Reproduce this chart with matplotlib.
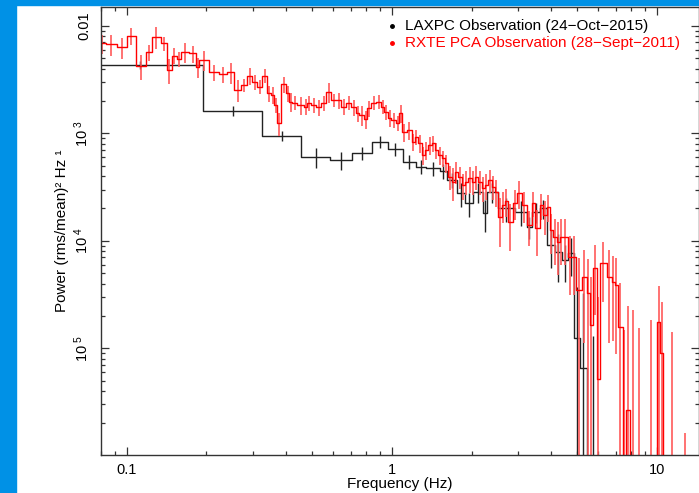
import numpy as np
import matplotlib
matplotlib.use('Agg')
import matplotlib.pyplot as plt
from matplotlib.patches import Rectangle
from matplotlib.ticker import LogLocator, NullFormatter

plt.rcParams['font.family'] = ['Liberation Sans', 'DejaVu Sans']
plt.rcParams['mathtext.fontset'] = 'custom'
plt.rcParams['mathtext.rm'] = 'Liberation Sans'

# LAXPC observation: bin edges (Hz), power, 1-sigma error
laxpc_edges = [0.065, 0.194, 0.324, 0.456, 0.586, 0.710, 0.845, 0.970, 1.098,
               1.234, 1.352, 1.514, 1.610, 1.757, 1.884, 2.02, 2.20, 2.28,
               2.51, 2.91, 3.23, 3.37, 3.62, 3.84, 4.12, 4.38, 4.62, 4.86,
               5.13, 5.45, 6.10]
laxpc_power = [4.35e-3, 1.62e-3, 9.44e-4, 6.02e-4, 5.61e-4, 6.56e-4, 8.35e-4,
               7.15e-4, 5.45e-4, 4.89e-4, 4.72e-4, 4.49e-4, 3.7e-4, 2.76e-4,
               2.23e-4, 2.86e-4, 1.81e-4, 2.86e-4, 2.01e-4, 1.87e-4, 1.35e-4,
               1.87e-4, 2.01e-4, 9.14e-5, 7.87e-5, 6.63e-5, 7.69e-5, 1.25e-5,
               6.56e-6, 0.0]
laxpc_err = [3.5e-4, 1.7e-4, 1.0e-4, 1.3e-4, 1.1e-4, 0.9e-4, 1.1e-4, 1.0e-4,
             0.8e-4, 0.75e-4, 0.7e-4, 0.7e-4, 0.6e-4, 0.7e-4, 0.56e-4, 0.6e-4,
             0.6e-4, 0.6e-4, 0.5e-4, 0.5e-4, 0.3e-4, 0.4e-4, 0.4e-4, 3.5e-5,
             3.7e-5, 2.5e-5, 3.0e-5, 2.5e-5, 2.6e-5, 1.3e-5]

# RXTE PCA observation: bin edges (Hz), power, 1-sigma error
rxte_edges = [0.078, 0.0834, 0.0918, 0.1002, 0.1083, 0.1182, 0.1246, 0.1346, 0.1419, 0.1482,
              0.1548, 0.1603, 0.1718, 0.1826, 0.1875, 0.2046, 0.2232, 0.2392, 0.2542, 0.2702,
              0.2847, 0.2974, 0.3106, 0.3245, 0.3389, 0.3509, 0.3601, 0.3697, 0.3828, 0.3998,
              0.4104, 0.4213, 0.4400, 0.4676, 0.4800, 0.4970, 0.5191, 0.5422, 0.5663, 0.5916,
              0.6179, 0.6454, 0.6741, 0.7041, 0.7355, 0.7549, 0.7885, 0.8091, 0.8381, 0.8755,
              0.9143, 0.9385, 0.9717, 0.9974, 1.0418, 1.0693, 1.0976, 1.1366, 1.1872, 1.2186,
              1.2509, 1.2953, 1.3295, 1.3646, 1.4129, 1.4503, 1.4887, 1.5414, 1.5821, 1.6240,
              1.6815, 1.7261, 1.7717, 1.8345, 1.8832, 1.9329, 2.0013, 2.0544, 2.1086, 2.1833,
              2.2413, 2.3005, 2.3819, 2.4451, 2.5097, 2.5985, 2.6675, 2.7380, 2.8599, 2.9614,
              3.0932, 3.2309, 3.3747, 3.4639, 3.6180, 3.7139, 3.8455, 3.9472, 4.0514, 4.1947,
              4.3053, 4.4192, 4.6159, 4.7795, 4.9487, 5.2142, 5.4462, 5.5905, 5.7391, 5.9420,
              6.0994, 6.4816, 6.7700, 6.9502, 7.1340, 7.4513, 7.6490, 7.9197, 8.3445, 8.7902,
              9.2628, 9.7588, 10.018, 10.283, 10.556, 11.02, 11.72, 12.35, 13.23]
rxte_power = [6.88e-3, 6.73e-3, 6.31e-3, 8.09e-3, 4.23e-3, 5.67e-3, 7.92e-3, 6.88e-3, 3.88e-3, 5.27e-3,
              4.91e-3, 5.74e-3, 5.55e-3, 4.14e-3, 4.81e-3, 3.69e-3, 3.54e-3, 3.69e-3, 2.55e-3, 2.80e-3,
              3.43e-3, 3.02e-3, 2.71e-3, 3.43e-3, 2.36e-3, 2.27e-3, 1.83e-3, 1.24e-3, 2.86e-3, 2.36e-3,
              1.97e-3, 1.93e-3, 1.83e-3, 1.77e-3, 1.90e-3, 1.83e-3, 1.74e-3, 1.90e-3, 2.41e-3, 2.04e-3,
              2.04e-3, 1.77e-3, 1.93e-3, 1.74e-3, 1.53e-3, 1.48e-3, 1.35e-3, 1.71e-3, 1.93e-3, 1.97e-3,
              1.77e-3, 1.59e-3, 1.39e-3, 1.33e-3, 1.25e-3, 1.54e-3, 1.03e-3, 1.07e-3, 8.35e-4, 9.30e-4,
              8.12e-4, 6.28e-4, 7.00e-4, 7.78e-4, 8.07e-4, 7.00e-4, 6.28e-4, 5.85e-4, 5.26e-4, 3.95e-4,
              3.55e-4, 4.39e-4, 3.95e-4, 3.30e-4, 3.55e-4, 3.81e-4, 3.55e-4, 3.95e-4, 3.55e-4, 3.08e-4,
              3.30e-4, 3.68e-4, 3.19e-4, 2.86e-4, 1.68e-4, 2.15e-4, 2.35e-4, 1.50e-4, 2.25e-4, 2.78e-4,
              2.15e-4, 1.40e-4, 2.25e-4, 1.32e-4, 2.15e-4, 1.74e-4, 2.08e-4, 1.26e-4, 1.09e-4, 9.81e-5,
              1.09e-4, 1.09e-4, 7.11e-5, 7.11e-5, 3.49e-5, 4.63e-5, 3.27e-5, 1.65e-5, 5.55e-5, 5.18e-6,
              6.17e-5, 4.63e-5, 4.16e-5, 3.88e-5, 1.59e-5, 0.0, 2.67e-6, 0.0, 0.0, 0.0,
              0.0, 0.0, 1.77e-5, 8.99e-6, 0.0, 0.0, 0.0, 0.0]
rxte_err = [1.4e-3, 1.5e-3, 1.4e-3, 1.5e-3, 1.1e-3, 1.0e-3, 1.8e-3, 1.0e-3, 1.0e-3, 0.9e-3,
            0.8e-3, 1.2e-3, 1.0e-3, 0.9e-3, 1.0e-3, 0.6e-3, 0.6e-3, 0.8e-3, 0.6e-3, 0.4e-3,
            0.6e-3, 0.5e-3, 0.4e-3, 0.5e-3, 0.4e-3, 0.4e-3, 0.3e-3, 0.3e-3, 0.5e-3, 0.4e-3,
            0.4e-3, 0.3e-3, 0.35e-3, 0.3e-3, 0.3e-3, 0.3e-3, 0.3e-3, 0.3e-3, 0.5e-3, 0.3e-3,
            0.35e-3, 0.3e-3, 0.3e-3, 0.3e-3, 0.25e-3, 0.3e-3, 0.25e-3, 0.3e-3, 0.3e-3, 0.3e-3,
            0.25e-3, 0.25e-3, 0.25e-3, 0.2e-3, 0.2e-3, 0.3e-3, 0.2e-3, 0.2e-3, 1.5e-4, 1.5e-4,
            1.5e-4, 1.2e-4, 1.3e-4, 1.5e-4, 1.3e-4, 1.2e-4, 1.2e-4, 1.0e-4, 1.0e-4, 1.0e-4,
            1.2e-4, 1.0e-4, 0.9e-4, 0.9e-4, 0.9e-4, 1.0e-4, 0.9e-4, 1.0e-4, 0.9e-4, 0.8e-4,
            0.9e-4, 0.9e-4, 0.8e-4, 0.8e-4, 0.8e-4, 0.7e-4, 0.7e-4, 0.7e-4, 0.7e-4, 0.8e-4,
            0.7e-4, 0.5e-4, 0.6e-4, 0.6e-4, 0.6e-4, 0.6e-4, 0.6e-4, 0.5e-4, 0.5e-4, 0.5e-4,
            0.5e-4, 0.5e-4, 0.4e-4, 0.4e-4, 3.5e-5, 3.5e-5, 3.5e-5, 3.0e-5, 3.5e-5, 2.5e-5,
            3.5e-5, 3.5e-5, 3.0e-5, 3.0e-5, 2.5e-5, 1.48e-5, 2.2e-5, 2.27e-5, 1.54e-5, 5e-7,
            1.83e-5, 5e-7, 2.0e-5, 1.8e-5, 5e-7, 1.42e-5, 5e-7, 1.63e-6]

x_ticks = [0.1, 1, 10]
x_tick_labels = ['0.1', '1', '10']
y_ticks = [1e-5, 1e-4, 1e-3, 1e-2]
y_tick_labels = [r'$\mathregular{10^{\ 5}}$', r'$\mathregular{10^{\ 4}}$',
                 r'$\mathregular{10^{\ 3}}$', '0.01']
legend_labels = ['LAXPC Observation (24\u2212Oct\u22122015)',
                 'RXTE PCA Observation (28\u2212Sept\u22122011)']

fig = plt.figure(figsize=(6.99, 4.93), dpi=100)
# blue frame of the original slide
fig.add_artist(Rectangle((0, 0), 16 / 699, 1, transform=fig.transFigure,
                         color='#0091e6', zorder=0))
fig.add_artist(Rectangle((0, 1 - 5 / 493), 1, 5 / 493, transform=fig.transFigure,
                         color='#0091e6', zorder=0))

ax = fig.add_axes([0.1445, 0.0771, 0.855, 0.9087])
ax.set_xscale('log')
ax.set_yscale('log', nonpositive='clip')


def draw_series(edges, power, err, color, ecolor, elw):
    edges = np.array(edges)
    power = np.array(power)
    centers = np.sqrt(edges[:-1] * edges[1:])
    ax.errorbar(centers, power, yerr=err, fmt='none', ecolor=ecolor,
                elinewidth=elw, capsize=0)
    ax.step(edges, np.append(power, power[-1]), where='post', color=color, lw=1.0)


draw_series(laxpc_edges, laxpc_power, laxpc_err, '#222222', '#222222', 1.0)
draw_series(rxte_edges, rxte_power, rxte_err, '#ff0000', '#ff5a5a', 1.2)

ax.set_xlim(0.080, 14.38)
ax.set_ylim(1.017e-6, 0.01496)

ax.set_xticks(x_ticks, x_tick_labels)
ax.xaxis.set_minor_locator(LogLocator(base=10, subs=np.arange(2, 10)))
ax.xaxis.set_minor_formatter(NullFormatter())
ax.set_yticks(y_ticks, y_tick_labels)
ax.yaxis.set_minor_locator(LogLocator(base=10, subs=np.arange(2, 10), numticks=20))
ax.yaxis.set_minor_formatter(NullFormatter())

ax.tick_params(which='both', direction='in', top=True, right=True,
               color='#333333', width=0.9, labelsize=10.5)
ax.tick_params(which='major', length=5.5)
ax.tick_params(which='minor', length=2.8)
ax.tick_params(axis='x', pad=6)
ax.tick_params(axis='y', pad=7)
for lab in ax.get_yticklabels():
    lab.set_rotation(90)
    lab.set_va('center')

for sp in ax.spines.values():
    sp.set_color('#333333')
    sp.set_linewidth(1.0)

ax.set_xlabel('Frequency (Hz)', fontsize=11, labelpad=0)
ax.set_ylabel('Power (rms/mean)\u00b2 Hz \u00b9', fontsize=11, labelpad=3)

# legend: coloured dots and labels
for i, (lab, col) in enumerate(zip(legend_labels, ['black', 'red'])):
    yy = 0.9587 - i * 0.038
    ax.plot([0.487], [yy], 'o', ms=2.5, color=col, transform=ax.transAxes)
    ax.text(0.509, yy, lab, color=col, fontsize=11, va='center',
            ha='left', transform=ax.transAxes)

fig.savefig('out.png', dpi=100)
